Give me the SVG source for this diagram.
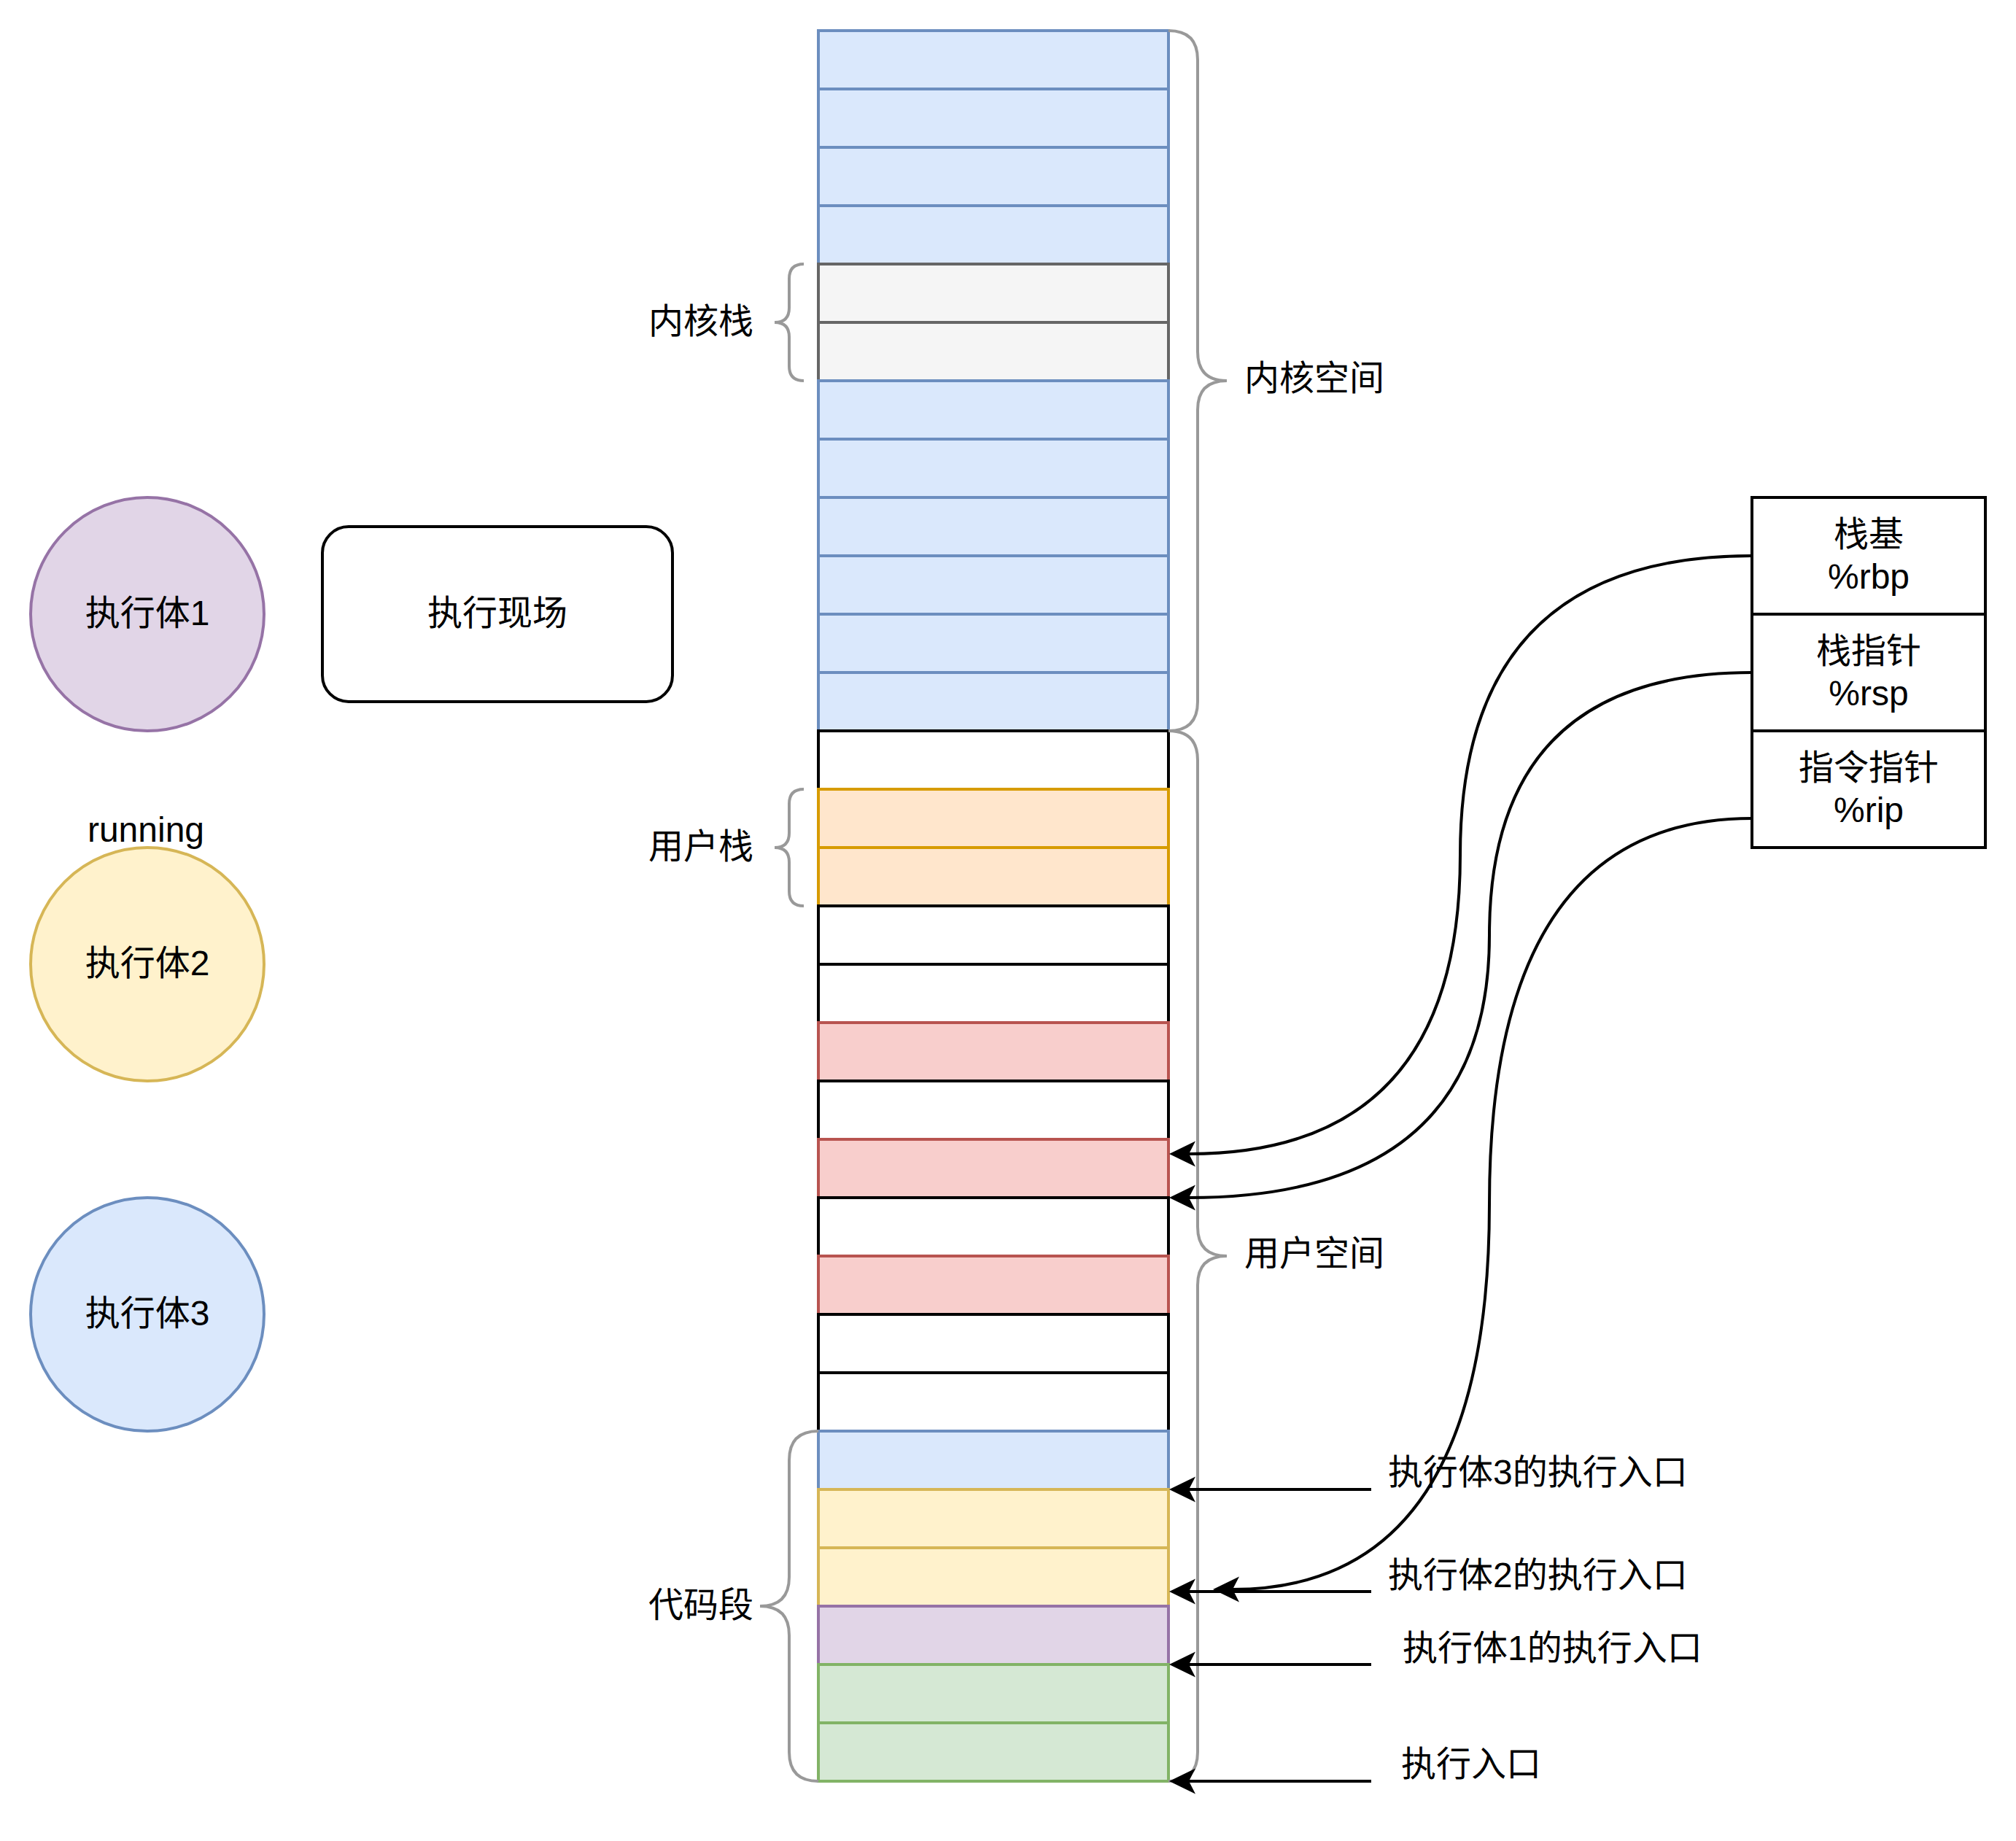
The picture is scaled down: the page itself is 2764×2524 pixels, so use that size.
<svg xmlns="http://www.w3.org/2000/svg" width="2764" height="2524" viewBox="0 0 2764 2524">
  <style>
    text { font-family: "Liberation Sans", "Noto Sans CJK SC", sans-serif; font-size: 48px; fill: #000000; }
    .mid { text-anchor: middle; }
    .cell { stroke-width: 4; }
    .blue { fill: #dae8fc; stroke: #6c8ebf; }
    .gray { fill: #f5f5f5; stroke: #666666; }
    .white { fill: #ffffff; stroke: #000000; }
    .orange { fill: #ffe6cc; stroke: #d79b00; }
    .red { fill: #f8cecc; stroke: #b85450; }
    .yellow { fill: #fff2cc; stroke: #d6b656; }
    .purple { fill: #e1d5e7; stroke: #9673a6; }
    .green { fill: #d5e8d4; stroke: #82b366; }
    .brace { fill: none; stroke: #999999; stroke-width: 4; }
    .box { fill: #ffffff; stroke: #000000; stroke-width: 4; }
    .edge { fill: none; stroke: #000000; stroke-width: 4; marker-end: url(#arrow); }
  </style>
  <defs>
    <marker id="arrow" markerUnits="userSpaceOnUse" markerWidth="40" markerHeight="40" viewBox="0 0 40 40" refX="9" refY="20" orient="auto">
      <path d="M36,20 L0,2.5 L9,20 L0,37.5 Z" fill="#000000"/>
    </marker>
  </defs>

  <rect width="2764" height="2524" fill="#ffffff"/>

  <!-- execution bodies -->
  <g id="exec1">
    <circle cx="202" cy="842" r="160" class="cell purple"/>
    <text x="202" y="857" class="mid">执行体1</text>
  </g>
  <g id="running-label">
    <text x="200" y="1154" class="mid">running</text>
  </g>
  <g id="exec2">
    <circle cx="202" cy="1322" r="160" class="cell yellow"/>
    <text x="202" y="1337" class="mid">执行体2</text>
  </g>
  <g id="exec3">
    <circle cx="202" cy="1802" r="160" class="cell blue"/>
    <text x="202" y="1817" class="mid">执行体3</text>
  </g>
  <g id="context">
    <rect x="442" y="722" width="480" height="240" rx="36" ry="36" class="box"/>
    <text x="682" y="857" class="mid">执行现场</text>
  </g>

  <!-- memory column, 30 slots of 80px, drawn top to bottom -->
  <g id="memory">
    <g id="slot00"><rect x="1122" y="42" width="480" height="80" class="cell blue"/></g>
    <g id="slot01"><rect x="1122" y="122" width="480" height="80" class="cell blue"/></g>
    <g id="slot02"><rect x="1122" y="202" width="480" height="80" class="cell blue"/></g>
    <g id="slot03"><rect x="1122" y="282" width="480" height="80" class="cell blue"/></g>
    <g id="slot04"><rect x="1122" y="362" width="480" height="80" class="cell gray"/></g>
    <g id="slot05"><rect x="1122" y="442" width="480" height="80" class="cell gray"/></g>
    <g id="slot06"><rect x="1122" y="522" width="480" height="80" class="cell blue"/></g>
    <g id="slot07"><rect x="1122" y="602" width="480" height="80" class="cell blue"/></g>
    <g id="slot08"><rect x="1122" y="682" width="480" height="80" class="cell blue"/></g>
    <g id="slot09"><rect x="1122" y="762" width="480" height="80" class="cell blue"/></g>
    <g id="slot10"><rect x="1122" y="842" width="480" height="80" class="cell blue"/></g>
    <g id="slot11"><rect x="1122" y="922" width="480" height="80" class="cell blue"/></g>
    <g id="slot12"><rect x="1122" y="1002" width="480" height="80" class="cell white"/></g>
    <g id="slot13"><rect x="1122" y="1082" width="480" height="80" class="cell orange"/></g>
    <g id="slot14"><rect x="1122" y="1162" width="480" height="80" class="cell orange"/></g>
    <g id="slot15"><rect x="1122" y="1242" width="480" height="80" class="cell white"/></g>
    <g id="slot16"><rect x="1122" y="1322" width="480" height="80" class="cell white"/></g>
    <g id="slot17"><rect x="1122" y="1402" width="480" height="80" class="cell red"/></g>
    <g id="slot18"><rect x="1122" y="1482" width="480" height="80" class="cell white"/></g>
    <g id="slot19"><rect x="1122" y="1562" width="480" height="80" class="cell red"/></g>
    <g id="slot20"><rect x="1122" y="1642" width="480" height="80" class="cell white"/></g>
    <g id="slot21"><rect x="1122" y="1722" width="480" height="80" class="cell red"/></g>
    <g id="slot22"><rect x="1122" y="1802" width="480" height="80" class="cell white"/></g>
    <g id="slot23"><rect x="1122" y="1882" width="480" height="80" class="cell white"/></g>
    <g id="slot24"><rect x="1122" y="1962" width="480" height="80" class="cell blue"/></g>
    <g id="slot25"><rect x="1122" y="2042" width="480" height="80" class="cell yellow"/></g>
    <g id="slot26"><rect x="1122" y="2122" width="480" height="80" class="cell yellow"/></g>
    <g id="slot27"><rect x="1122" y="2202" width="480" height="80" class="cell purple"/></g>
    <g id="slot28"><rect x="1122" y="2282" width="480" height="80" class="cell green"/></g>
    <g id="slot29"><rect x="1122" y="2362" width="480" height="80" class="cell green"/></g>
  </g>

  <!-- region braces and their labels -->
  <g id="kernel-stack">
    <path class="brace" d="M1102,362 Q1082,362 1082,382 L1082,422 Q1082,442 1062,442 Q1082,442 1082,462 L1082,502 Q1082,522 1102,522"/>
    <text x="961" y="457" class="mid">内核栈</text>
  </g>
  <g id="user-stack">
    <path class="brace" d="M1102,1082 Q1082,1082 1082,1102 L1082,1142 Q1082,1162 1062,1162 Q1082,1162 1082,1182 L1082,1222 Q1082,1242 1102,1242"/>
    <text x="961" y="1177" class="mid">用户栈</text>
  </g>
  <g id="code-segment">
    <path class="brace" d="M1122,1962 Q1082,1962 1082,2002 L1082,2162 Q1082,2202 1042,2202 Q1082,2202 1082,2242 L1082,2402 Q1082,2442 1122,2442"/>
    <text x="961" y="2217" class="mid">代码段</text>
  </g>
  <g id="kernel-space">
    <path class="brace" d="M1602,42 Q1642,42 1642,82 L1642,482 Q1642,522 1682,522 Q1642,522 1642,562 L1642,962 Q1642,1002 1602,1002"/>
    <text x="1706" y="535">内核空间</text>
  </g>
  <g id="user-space">
    <path class="brace" d="M1602,1002 Q1642,1002 1642,1042 L1642,1682 Q1642,1722 1682,1722 Q1642,1722 1642,1762 L1642,2402 Q1642,2442 1602,2442"/>
    <text x="1706" y="1735">用户空间</text>
  </g>

  <!-- registers -->
  <g id="reg-rbp">
    <rect x="2402" y="682" width="320" height="160" class="box"/>
    <text x="2562" y="749" class="mid">栈基</text>
    <text x="2562" y="807" class="mid">%rbp</text>
  </g>
  <g id="reg-rsp">
    <rect x="2402" y="842" width="320" height="160" class="box"/>
    <text x="2562" y="909" class="mid">栈指针</text>
    <text x="2562" y="967" class="mid">%rsp</text>
  </g>
  <g id="reg-rip">
    <rect x="2402" y="1002" width="320" height="160" class="box"/>
    <text x="2562" y="1069" class="mid">指令指针</text>
    <text x="2562" y="1127" class="mid">%rip</text>
  </g>

  <!-- entry point labels -->
  <g id="entry3"><text x="1903" y="2035">执行体3的执行入口</text></g>
  <g id="entry2"><text x="1903" y="2176">执行体2的执行入口</text></g>
  <g id="entry1"><text x="1923" y="2276">执行体1的执行入口</text></g>
  <g id="entry0"><text x="1921" y="2435">执行入口</text></g>

  <!-- connectors -->
  <g id="connectors">
    <path class="edge" d="M2402,762 Q2002,762 2002,1172 Q2002,1582 1630,1582"/>
    <path class="edge" d="M2402,922 Q2042,922 2042,1282 Q2042,1642 1630,1642"/>
    <path class="edge" d="M2402,1122 Q2042,1122 2042,1650.5 Q2042,2179 1690,2179"/>
    <path class="edge" d="M1880,2042 L1630,2042"/>
    <path class="edge" d="M1880,2182 L1630,2182"/>
    <path class="edge" d="M1880,2282 L1630,2282"/>
    <path class="edge" d="M1880,2442 L1630,2442"/>
  </g>
</svg>
